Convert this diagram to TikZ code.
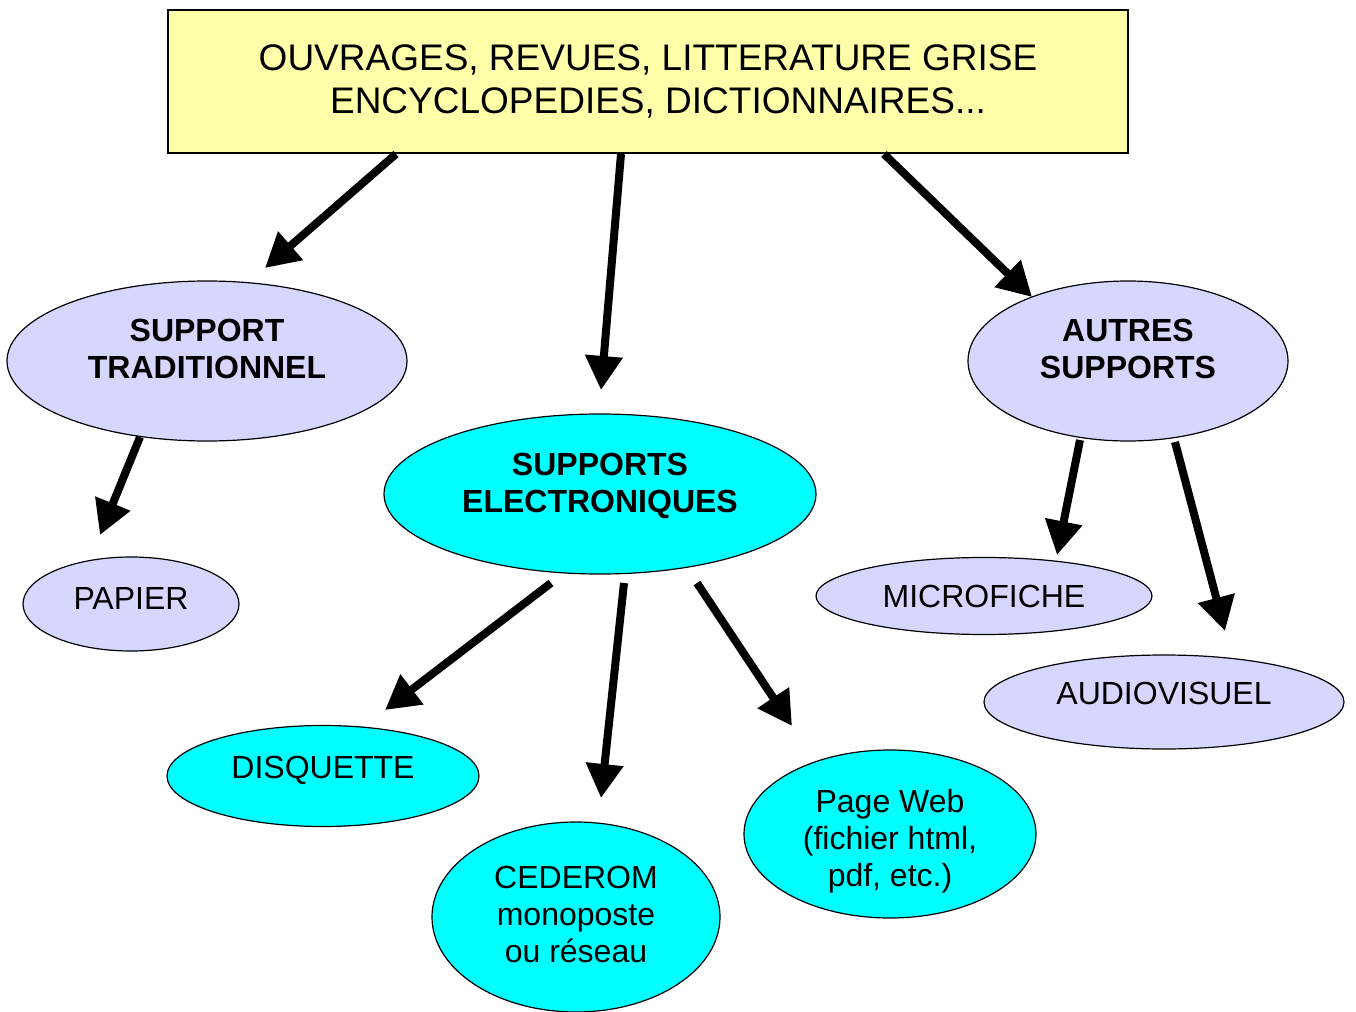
\documentclass[tikz,border=0pt]{standalone}
\usepackage{fontspec}
\setmainfont{Liberation Sans}
\usetikzlibrary{positioning, arrows.meta, shapes.geometric, calc}

\definecolor{srcyellow}{RGB}{255,255,170}
\definecolor{suplavender}{RGB}{214,214,255}
\definecolor{eleccyan}{RGB}{0,255,255}

\begin{document}
\begin{tikzpicture}[
    x=0.5pt, y=-0.5pt,
    font=\fontsize{16}{18.5}\selectfont,
    >={Triangle[length=17pt, width=18pt]},
    sources/.style={
        rectangle, draw=black, line width=1pt, fill=srcyellow,
        minimum width=480pt, minimum height=71.5pt,
        align=center, font=\fontsize{18.5}{21.5}\selectfont
    },
    bubble/.style={
        ellipse, draw=black, line width=0.6pt, inner sep=1pt,
        align=center, text height=11.5pt
    },
    support/.style={bubble, fill=suplavender},
    media/.style={bubble, fill=eleccyan},
    family/.style={font=\bfseries\fontsize{16}{18.5}\selectfont},
    flow/.style={->, line width=4pt}
]

% ============ SOURCES (top box) ============
\useasboundingbox (0,0) rectangle (1356,1012);
\node[sources] (src) at (648,81.5)
    {OUVRAGES, REVUES, LITTERATURE GRISE\\\hspace*{10pt}ENCYCLOPEDIES, DICTIONNAIRES...};

% ============ THREE FAMILIES OF SUPPORTS ============
\node[support, family, minimum width=200pt, minimum height=80pt,
      text height=30pt, text depth=12.5pt]
    (trad) at (207,361) {SUPPORT\\TRADITIONNEL};
\node[media, family, minimum width=216pt, minimum height=80pt,
      text height=30pt, text depth=12pt]
    (elec) at (600,494) {SUPPORTS\\ELECTRONIQUES};
\node[support, family, minimum width=160pt, minimum height=80pt,
      text height=30pt, text depth=12.5pt]
    (autres) at (1128,361) {AUTRES\\SUPPORTS};

% ============ LEAVES ============
\node[support, minimum width=108pt, minimum height=47pt, text depth=6pt]
    (papier) at (131,604) {PAPIER};
\node[media, minimum width=156pt, minimum height=50.5pt, text depth=9pt]
    (disq) at (323,776) {DISQUETTE};
\node[media, minimum width=144pt, minimum height=95pt,
      text height=48.5pt, text depth=3pt]
    (cdrom) at (576,917) {CEDEROM\\monoposte\\ou réseau};
\node[media, minimum width=146pt, minimum height=84pt,
      text height=52.5pt, text depth=0pt]
    (web) at (890,834) {Page Web\\(fichier html,\\pdf, etc.)};
\node[support, minimum width=168pt, minimum height=38.5pt, text depth=0pt]
    (micro) at (984,596) {MICROFICHE};
\node[support, minimum width=180pt, minimum height=47pt, text depth=9pt]
    (audio) at (1164,702) {AUDIOVISUEL};

% ============ ARROW TIPS ============
\coordinate (toTrad) at (265,268);
\coordinate (toElec) at (601,390);
\coordinate (toAutres) at (1032,297);
\coordinate (toPapier) at (100,535);
\coordinate (toDisq) at (385,710);
\coordinate (toCdrom) at (601,798);
\coordinate (toWeb) at (792,726);
\coordinate (toMicro) at (1057,555);
\coordinate (toAudio) at (1225,631);

% ============ ARROWS ============
\draw[flow] ($(src.south west)+(229,0)$) -- (toTrad);
\draw[flow] ($(src.south west)+(454,0)$) -- (toElec);
\draw[flow] ($(src.south west)+(717,0)$) -- (toAutres);

\draw[flow] ($(trad.center)+(-67,76)$) -- (toPapier);

\draw[flow] ($(elec.center)+(-49,89)$) -- (toDisq);
\draw[flow] ($(elec.center)+(24,89)$) -- (toCdrom);
\draw[flow] ($(elec.center)+(97,89)$) -- (toWeb);

\draw[flow] ($(autres.center)+(-48,79)$) -- (toMicro);
\draw[flow] ($(autres.center)+(47,81)$) -- (toAudio);

\end{tikzpicture}
\end{document}
